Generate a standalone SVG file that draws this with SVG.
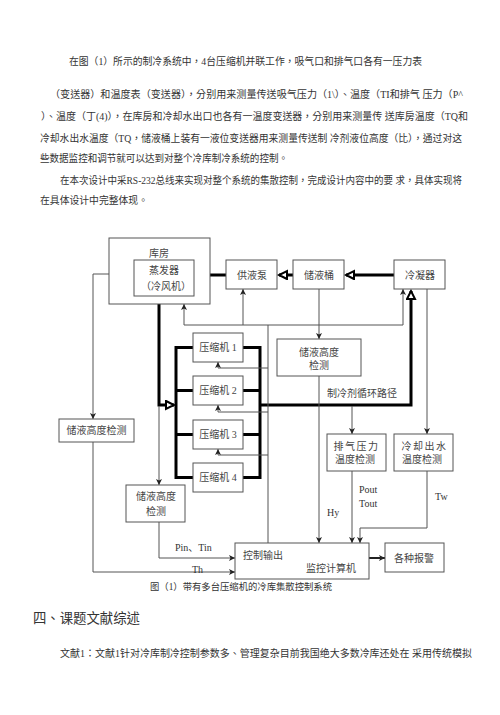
<svg xmlns="http://www.w3.org/2000/svg" width="500" height="715" viewBox="0 0 500 715">
<defs>
<style>
.p{font-family:"Liberation Serif","Noto Sans CJK TC",serif;font-size:10px;fill:#333;dominant-baseline:central}
.t{font-family:"Liberation Serif","Noto Sans CJK SC",serif;font-size:10px;fill:#444;dominant-baseline:central;text-anchor:middle}
.l{font-family:"Liberation Serif","Noto Sans CJK SC",serif;font-size:10px;fill:#333;dominant-baseline:central}
.b{fill:#fff;stroke:#555;stroke-width:1}
.c{fill:none;stroke:#555;stroke-width:1}
.k{fill:none;stroke:#000;stroke-width:3}
</style>
<marker id="a" markerUnits="userSpaceOnUse" markerWidth="7" markerHeight="7" refX="6" refY="3" orient="auto"><path d="M0,0 L6,3 L0,6 L1.5,3 z" fill="#222"/></marker>
<marker id="A" markerUnits="userSpaceOnUse" markerWidth="12" markerHeight="12" refX="9" refY="5" orient="auto"><path d="M1,1 L9,5 L1,9 z" fill="#fff" stroke="#000" stroke-width="2"/></marker>
</defs>
<rect width="500" height="715" fill="#fff"/>

<g id="text" xml:lang="zh-TW" lang="zh-TW">
<text class="p" x="69" y="61" textLength="353" lengthAdjust="spacingAndGlyphs">在图（1）所示的制冷系统中，4台压缩机并联工作，吸气口和排气口各有一压力表</text>
<text class="p" x="50" y="94" textLength="413" lengthAdjust="spacingAndGlyphs">（变送器）和温度表（变送器），分别用来测量传送吸气压力（1\）、温度（TI和排气 压力（P^</text>
<text class="p" x="41" y="116" textLength="427" lengthAdjust="spacingAndGlyphs">）、温度（丁(4)），在库房和冷却水出口也各有一温度变送器，分别用来测量传 送库房温度（TQ和</text>
<text class="p" x="40" y="138" textLength="422" lengthAdjust="spacingAndGlyphs">冷却水出水温度（TQ，储液桶上装有一液位变送器用来测量传送制 冷剂液位高度（比），通过对这</text>
<text class="p" x="40" y="158" textLength="248" lengthAdjust="spacingAndGlyphs">些数据监控和调节就可以达到对整个冷库制冷系统的控制。</text>
<text class="p" x="60" y="180" textLength="402" lengthAdjust="spacingAndGlyphs">在本次设计中采RS-232总线来实现对整个系统的集散控制，完成设计内容中的要 求，具体实现将</text>
<text class="p" x="40" y="200" textLength="108" lengthAdjust="spacingAndGlyphs">在具体设计中完整体现。</text>
<text class="p" x="150" y="587" style="font-size:9.5px" textLength="182" lengthAdjust="spacingAndGlyphs">图（1）带有多台压缩机的冷库集散控制系统</text>
<text class="p" x="33" y="618" style="font-size:13.5px" textLength="107" lengthAdjust="spacingAndGlyphs">四、课题文献综述</text>
<text class="p" x="60" y="653" textLength="412" lengthAdjust="spacingAndGlyphs">文献1：文献1针对冷库制冷控制参数多、管理复杂目前我国绝大多数冷库还处在 采用传统模拟</text>
</g>

<g id="connectors">
<line class="k" x1="394" y1="275" x2="346" y2="275" marker-end="url(#A)"/>
<line class="k" x1="293" y1="275" x2="279" y2="275" marker-end="url(#A)"/>
<line class="k" x1="226" y1="275" x2="196" y2="275" marker-end="url(#A)"/>
<polyline class="k" points="159,304 159,405 174,405" marker-end="url(#A)"/>
<line class="k" x1="176" y1="346" x2="176" y2="479"/>
<line class="k" x1="176" y1="347.5" x2="193" y2="347.5"/>
<line class="k" x1="176" y1="390.5" x2="193" y2="390.5"/>
<line class="k" x1="176" y1="434.5" x2="193" y2="434.5"/>
<line class="k" x1="176" y1="477.5" x2="193" y2="477.5"/>
<line class="k" x1="260" y1="346" x2="260" y2="479"/>
<line class="k" x1="243" y1="347.5" x2="260" y2="347.5"/>
<line class="k" x1="243" y1="390.5" x2="260" y2="390.5"/>
<line class="k" x1="243" y1="434.5" x2="260" y2="434.5"/>
<line class="k" x1="243" y1="477.5" x2="260" y2="477.5"/>
<polyline class="k" points="260,405 411,405 411,291" marker-end="url(#A)"/>
<polyline class="c" points="109,274 93,274 93,419" marker-end="url(#a)"/>
<polyline class="c" points="93,442 93,572 235,572" marker-end="url(#a)"/>
<line class="c" x1="184" y1="325" x2="403" y2="325"/>
<line class="c" x1="184" y1="325" x2="184" y2="304" marker-end="url(#a)"/>
<line class="c" x1="243" y1="325" x2="243" y2="289" marker-end="url(#a)"/>
<line class="c" x1="403" y1="325" x2="403" y2="289" marker-end="url(#a)"/>
<line class="c" x1="268" y1="325" x2="268" y2="543"/>
<polyline class="c" points="268,368 218,368 218,362" marker-end="url(#a)"/>
<polyline class="c" points="268,412 218,412 218,405" marker-end="url(#a)"/>
<polyline class="c" points="268,455 218,455 218,449" marker-end="url(#a)"/>
<line class="c" x1="319" y1="289" x2="319" y2="339" marker-end="url(#a)"/>
<line class="c" x1="319" y1="376" x2="319" y2="543" marker-end="url(#a)"/>
<line class="c" x1="352" y1="406" x2="352" y2="434" marker-end="url(#a)"/>
<line class="c" x1="352" y1="471" x2="352" y2="543" marker-end="url(#a)"/>
<line class="c" x1="427" y1="289" x2="427" y2="434" marker-end="url(#a)"/>
<polyline class="c" points="427,471 427,528 360,528 360,543" marker-end="url(#a)"/>
<line class="c" x1="159" y1="406" x2="159" y2="485" marker-end="url(#a)"/>
<polyline class="c" points="159,522 159,558 235,558" marker-end="url(#a)"/>
<line x1="369" y1="558" x2="385" y2="558" stroke="#222" stroke-width="2" marker-end="url(#a)"/>
<text class="l" x="175" y="547">Pin、Tin</text>
<text class="l" x="192" y="569">Th</text>
<text class="l" x="327" y="512">Hy</text>
<text class="l" x="359" y="489">Pout</text>
<text class="l" x="359" y="503">Tout</text>
<text class="l" x="435" y="496">Tw</text>
<text class="l" x="327" y="393" style="fill:#444">制冷剂循环路径</text>
</g>

<g id="kufang"><rect class="b" x="109" y="238" width="101" height="66"/><text class="t" x="159" y="253">库房</text></g>
<g id="zhengfaqi"><rect class="b" x="134" y="260" width="60" height="36"/><text class="t" x="164" y="270">蒸发器</text><text class="t" x="166" y="286">（冷风机）</text></g>
<g id="gongyebeng"><rect class="b" x="226" y="260" width="51" height="29"/><text class="t" x="252" y="275">供液泵</text></g>
<g id="chuyetong"><rect class="b" x="293" y="260" width="51" height="29"/><text class="t" x="319" y="275">储液桶</text></g>
<g id="lengningqi"><rect class="b" x="394" y="260" width="51" height="29"/><text class="t" x="420" y="275">冷凝器</text></g>
<g id="level_mid"><rect class="b" x="277" y="339" width="84" height="37"/><text class="t" x="319" y="352">储液高度</text><text class="t" x="319" y="365">检测</text></g>
<g id="comp1"><rect class="b" x="193" y="333" width="50" height="29"/><text class="t" x="218" y="347.5">压缩机 1</text></g>
<g id="comp2"><rect class="b" x="193" y="376" width="50" height="29"/><text class="t" x="218" y="390.5">压缩机 2</text></g>
<g id="comp3"><rect class="b" x="193" y="420" width="50" height="29"/><text class="t" x="218" y="434.5">压缩机 3</text></g>
<g id="comp4"><rect class="b" x="193" y="463" width="50" height="29"/><text class="t" x="218" y="477.5">压缩机 4</text></g>
<g id="level_left"><rect class="b" x="59" y="419" width="75" height="23"/><text class="t" x="96.5" y="430.5">储液高度检测</text></g>
<g id="paiqi"><rect class="b" x="327" y="434" width="59" height="37"/><text class="t" x="356.5" y="446" letter-spacing="1.5">排气压力</text><text class="t" x="355" y="459">温度检测</text></g>
<g id="lengque"><rect class="b" x="394" y="434" width="59" height="37"/><text class="t" x="424.5" y="446" letter-spacing="1.5">冷却出水</text><text class="t" x="422" y="459">温度检测</text></g>
<g id="level_low"><rect class="b" x="126" y="485" width="59" height="37"/><text class="t" x="156" y="496">储液高度</text><text class="t" x="156" y="511">检测</text></g>
<g id="controller"><rect class="b" x="235" y="543" width="134" height="36"/><text class="l" x="243" y="555" style="fill:#444">控制输出</text><text class="l" x="306" y="568" style="fill:#444">监控计算机</text></g>
<g id="alarm"><rect class="b" x="385" y="543" width="59" height="29"/><text class="t" x="414" y="558">各种报警</text></g>
</svg>
